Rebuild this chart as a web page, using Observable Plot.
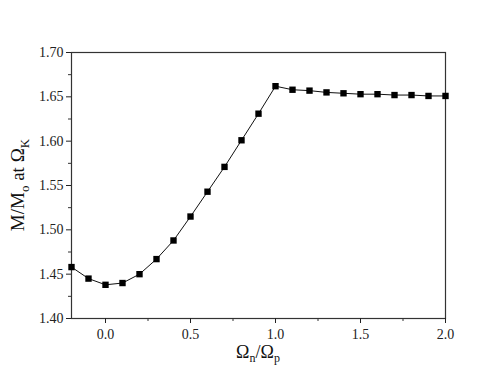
<!DOCTYPE html>
<html><head><meta charset="utf-8">
<script src="https://cdn.jsdelivr.net/npm/d3@7"></script>
<script src="https://cdn.jsdelivr.net/npm/@observablehq/plot@0.6"></script>
<style>
body{margin:0;background:#fff;}
svg text{font-family:"Liberation Serif","DejaVu Serif",serif !important;}
</style></head>
<body><div id="chart"></div>
<script>
const omegaRatio = [-0.2,-0.1,0.0,0.1,0.2,0.3,0.4,0.5,0.6,0.7,0.8,0.9,1.0,1.1,1.2,1.3,1.4,1.5,1.6,1.7,1.8,1.9,2.0];
const massRatio = [1.458,1.445,1.438,1.440,1.450,1.467,1.488,1.515,1.543,1.571,1.601,1.631,1.662,1.658,1.657,1.655,1.654,1.653,1.653,1.652,1.652,1.651,1.651];
const xTicks = [0.0,0.5,1.0,1.5,2.0];
const xMinor = [0.25,0.75,1.25,1.75];
const yTicks = [1.40,1.45,1.50,1.55,1.60,1.65,1.70];
const yMinor = [1.425,1.475,1.525,1.575,1.625,1.675];

const data = omegaRatio.map((x,i)=>({x, y: massRatio[i]}));
const W=491,H=375, mL=71, mR=46, mT=52, mB=57;

const plot = Plot.plot({
  width: W, height: H,
  marginLeft: mL, marginRight: mR, marginTop: mT, marginBottom: mB,
  style: {fontFamily: "Liberation Serif", fontSize: "14px", background: "#fff"},
  x: {domain: [-0.2, 2.0]},
  y: {domain: [1.40, 1.70]},
  marks: [
    Plot.frame({stroke: "#333", strokeWidth: 1.2}),
    Plot.axisX({ticks: xTicks, tickFormat: d3.format(".1f"), tickSize: 5, tickPadding: 6, label: null, fontSize: 14, color: "#222"}),
    Plot.axisX({ticks: xMinor, text: null, tickSize: 3, label: null, color: "#333"}),
    Plot.axisY({ticks: yTicks, tickFormat: d3.format(".2f"), tickSize: 5, tickPadding: 3, label: null, fontSize: 14, color: "#222"}),
    Plot.axisY({ticks: yMinor, text: null, tickSize: 3, label: null, color: "#333"}),
    Plot.line(data, {x: "x", y: "y", stroke: "#111", strokeWidth: 1}),
    Plot.dot(data, {x: "x", y: "y", symbol: "square", r: 3.6, fill: "#000", stroke: "none"})
  ]
});

const svg = d3.select(plot);
const xt = svg.append("text")
  .attr("x", mL + (W - mL - mR)/2).attr("y", H - 17)
  .attr("text-anchor","middle").attr("font-size", 18).attr("fill","#111");
xt.append("tspan").text("Ω");
xt.append("tspan").text("n").attr("font-size",12).attr("dy",4);
xt.append("tspan").text("/Ω").attr("dy",-4);
xt.append("tspan").text("p").attr("font-size",12).attr("dy",4);

const yt = svg.append("text")
  .attr("transform", `translate(24,${mT + (H - mT - mB)/2}) rotate(-90)`)
  .attr("text-anchor","middle").attr("font-size", 19).attr("fill","#111");
yt.append("tspan").text("M/M");
yt.append("tspan").text("o").attr("font-size",13).attr("dy",5);
yt.append("tspan").text(" at Ω").attr("dy",-5);
yt.append("tspan").text("K").attr("font-size",13).attr("dy",5);

document.getElementById("chart").appendChild(plot);
</script></body></html>
